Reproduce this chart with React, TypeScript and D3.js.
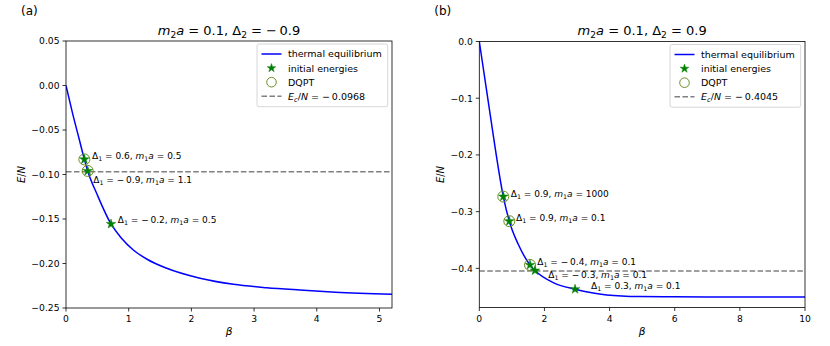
import React from "react";
import * as d3 from "d3";

// ---------- Panel (a) data ----------
const betaA = [0, 0.1, 0.213, 0.293, 0.346, 0.5, 0.718, 0.878, 1.074, 1.3, 1.607, 2.138, 2.67, 3.2, 3.73, 4.3, 5.2];
const energyA = [0, -0.03, -0.061, -0.083, -0.096, -0.123, -0.1556, -0.171, -0.1848, -0.1955, -0.2054, -0.2166, -0.2234, -0.2272, -0.2298, -0.2322, -0.2345];
const starBetaA = [0.293, 0.346, 0.718];
const starEnergyA = [-0.083, -0.096, -0.1556];
const dqptA = [true, true, false];
const starLabelsA = ["Δ_1 = 0.6, m_1a = 0.5", "Δ_1 = −\u20090.9, m_1a = 1.1", "Δ_1 = −\u20090.2, m_1a = 0.5"];
const labelOffA: [number, number][] = [[7.7, 0], [5.6, 12.3], [6.7, -0.7]];
const ecA = -0.0968;
const xTicksA = [0, 1, 2, 3, 4, 5];
const yTicksA = [0.05, 0, -0.05, -0.1, -0.15, -0.2, -0.25];
const titleA = "m_2a = 0.1, Δ_2 = −\u20090.9";

// ---------- Panel (b) data ----------
const betaB = [0, 0.226, 0.48, 0.737, 0.921, 1.2, 1.557, 1.71, 2.3, 2.94, 3.91, 4.93, 6, 8, 10];
const energyB = [0, -0.087, -0.185, -0.2734, -0.3168, -0.358, -0.394, -0.4039, -0.426, -0.4367, -0.4468, -0.4497, -0.4502, -0.4503, -0.4503];
const starBetaB = [0.737, 0.921, 1.557, 1.71, 2.94];
const starEnergyB = [-0.2734, -0.3168, -0.394, -0.4039, -0.4367];
const dqptB = [true, true, true, false, false];
const starLabelsB = [
  "Δ_1 = 0.9, m_1a = 1000",
  "Δ_1 = 0.9, m_1a = 0.1",
  "Δ_1 = −\u20090.4, m_1a = 0.1",
  "Δ_1 = −\u20090.3, m_1a = 0.1",
  "Δ_1 = 0.3, m_1a = 0.1",
];
const labelOffB: [number, number][] = [[7.4, 0], [6.7, -0.6], [7.3, 0], [13.3, 7.6], [16, 0]];
const ecB = -0.4045;
const xTicksB = [0, 2, 4, 6, 8, 10];
const yTicksB = [0, -0.1, -0.2, -0.3, -0.4];
const titleB = "m_2a = 0.1, Δ_2 = 0.9";

const FONT = "DejaVu Sans, sans-serif";
const STAR_GREEN = "#008000";
const OLIVE = "#6b8e23";

function MathText({ x, y, s, fs, anchor = "start", transform }: any) {
  const parts: { t: string; sub: boolean; it: boolean }[] = [];
  let i = 0;
  while (i < s.length) {
    const c = s[i];
    if (c === "_") {
      const n = s[i + 1];
      parts.push({ t: n, sub: true, it: /[a-zA-Z]/.test(n) });
      i += 2;
      continue;
    }
    const it = /[a-zA-Zβ]/.test(c);
    const last = parts[parts.length - 1];
    if (last && !last.sub && last.it === it) last.t += c;
    else parts.push({ t: c, sub: false, it });
    i++;
  }
  let cur = 0;
  return (
    <text x={x} y={y} fontSize={fs} fontFamily={FONT} textAnchor={anchor} transform={transform} style={{ whiteSpace: "pre" }} fill="#000">
      {parts.map((p, k) => {
        const target = p.sub ? fs * 0.22 : 0;
        const dy = target - cur;
        cur = target;
        return (
          <tspan key={k} dy={dy} fontSize={p.sub ? fs * 0.7 : undefined} fontStyle={p.it ? "italic" : undefined}>
            {p.t}
          </tspan>
        );
      })}
    </text>
  );
}

function Star({ cx, cy, r }: any) {
  const size = (r * r) / 0.8908130915292852;
  const path = d3.symbol(d3.symbolStar, size)() as string;
  return <path d={path} transform={`translate(${cx},${cy})`} fill={STAR_GREEN} stroke={STAR_GREEN} strokeWidth={0.5} />;
}

function Panel(props: any) {
  const { left, right, top, bottom, xDomain, yDomain, xTicks, yTicks, yFmt, beta, energy, starB, starE, dqpt, labels, offs, ec, title, tag, id, ylabelX } = props;
  const x = d3.scaleLinear().domain(xDomain).range([left, right]);
  const y = d3.scaleLinear().domain(yDomain).range([bottom, top]);
  const pts = beta.map((b: number, i: number) => [b, energy[i]] as [number, number]);
  const line = d3
    .line<[number, number]>()
    .x((d) => x(d[0]))
    .y((d) => y(d[1]))
    .curve(d3.curveMonotoneX);
  const fmt = d3.format(yFmt);
  const cx = (left + right) / 2;
  const cy = (top + bottom) / 2;
  const lgW = 130.7;
  const lgL = right - 4.3 - lgW;
  const lgT = top + 3;
  const rowY = (k: number) => lgT + 10 + k * 14.1;
  const hx0 = lgL + 4.5;
  const hx1 = lgL + 24.5;
  const hxm = (hx0 + hx1) / 2;
  const tx = lgL + 31;
  return (
    <g>
      <defs>
        <clipPath id={id}>
          <rect x={left} y={top} width={right - left} height={bottom - top} />
        </clipPath>
      </defs>
      <text x={left - 45} y={14.5} fontSize={12} fontFamily={FONT}>{tag}</text>
      <MathText x={cx} y={35} s={title} fs={13} anchor="middle" />
      <g clipPath={`url(#${id})`}>
        <line x1={left} x2={right} y1={y(ec)} y2={y(ec)} stroke="#808080" strokeWidth={1.5} strokeDasharray="5.55,2.4" />
        <path d={line(pts) as string} fill="none" stroke="#0000ff" strokeWidth={1.5} />
      </g>
      {starB.map((b: number, i: number) => (
        <g key={i}>
          {dqpt[i] && <circle cx={x(b)} cy={y(starE[i])} r={5.5} fill="none" stroke={OLIVE} strokeWidth={1} />}
          <Star cx={x(b)} cy={y(starE[i])} r={5} />
        </g>
      ))}
      {starB.map((b: number, i: number) => (
        <MathText key={i} x={x(b) + offs[i][0]} y={y(starE[i]) + offs[i][1]} s={labels[i]} fs={9} />
      ))}
      {/* spines */}
      <rect x={left} y={top} width={right - left} height={bottom - top} fill="none" stroke="#000" strokeWidth={0.8} />
      {xTicks.map((t: number) => (
        <g key={t}>
          <line x1={x(t)} x2={x(t)} y1={bottom} y2={bottom + 3.5} stroke="#000" strokeWidth={0.8} />
          <text x={x(t)} y={bottom + 14} fontSize={9.2} fontFamily={FONT} textAnchor="middle">{t}</text>
        </g>
      ))}
      {yTicks.map((t: number) => (
        <g key={t}>
          <line x1={left - 3.5} x2={left} y1={y(t)} y2={y(t)} stroke="#000" strokeWidth={0.8} />
          <text x={left - 6.5} y={y(t) + 3.3} fontSize={9.2} fontFamily={FONT} textAnchor="end">{fmt(t)}</text>
        </g>
      ))}
      <MathText x={cx} y={335} s="β" fs={10.5} anchor="middle" />
      <MathText x={0} y={0} s="E/N" fs={10} anchor="middle" transform={`translate(${ylabelX + 3.5},${cy}) rotate(-90)`} />
      {/* legend */}
      <rect x={lgL} y={lgT} width={lgW} height={62.7} rx={2} fill="#fff" fillOpacity={0.8} stroke="#cccccc" strokeWidth={0.8} />
      <line x1={hx0} x2={hx1} y1={rowY(0)} y2={rowY(0)} stroke="#0000ff" strokeWidth={1.5} />
      <text x={tx} y={rowY(0) + 3.4} fontSize={9.5} fontFamily={FONT}>thermal equilibrium</text>
      <Star cx={hxm} cy={rowY(1)} r={4.5} />
      <text x={tx} y={rowY(1) + 3.4} fontSize={9.5} fontFamily={FONT}>initial energies</text>
      <circle cx={hxm} cy={rowY(2)} r={4.8} fill="none" stroke={OLIVE} strokeWidth={1} />
      <text x={tx} y={rowY(2) + 3.4} fontSize={9.5} fontFamily={FONT}>DQPT</text>
      <line x1={hx0} x2={hx1} y1={rowY(3)} y2={rowY(3)} stroke="#808080" strokeWidth={1.5} strokeDasharray="5.55,2.4" />
      <MathText x={tx} y={rowY(3) + 3.4} s={`E_c/N = −\u2009${Math.abs(ec).toFixed(4)}`} fs={9.5} />
    </g>
  );
}

export default function App() {
  return (
    <svg width={830} height={346} style={{ position: "absolute", left: 0, top: 0, background: "#fff" }}>
      <rect width={830} height={346} fill="#fff" />
      <Panel
        id="clipA"
        tag="(a)"
        title={titleA}
        left={66}
        right={392}
        top={41}
        bottom={308}
        xDomain={[0, 5.2]}
        yDomain={[-0.25, 0.05]}
        xTicks={xTicksA}
        yTicks={yTicksA}
        yFmt=".2f"
        beta={betaA}
        energy={energyA}
        starB={starBetaA}
        starE={starEnergyA}
        dqpt={dqptA}
        labels={starLabelsA}
        offs={labelOffA}
        ec={ecA}
        ylabelX={21}
      />
      <Panel
        id="clipB"
        tag="(b)"
        title={titleB}
        left={479.3}
        right={805}
        top={41.5}
        bottom={307.5}
        xDomain={[0, 10]}
        yDomain={[-0.469, 0]}
        xTicks={xTicksB}
        yTicks={yTicksB}
        yFmt=".1f"
        beta={betaB}
        energy={energyB}
        starB={starBetaB}
        starE={starEnergyB}
        dqpt={dqptB}
        labels={starLabelsB}
        offs={labelOffB}
        ec={ecB}
        ylabelX={440}
      />
    </svg>
  );
}
